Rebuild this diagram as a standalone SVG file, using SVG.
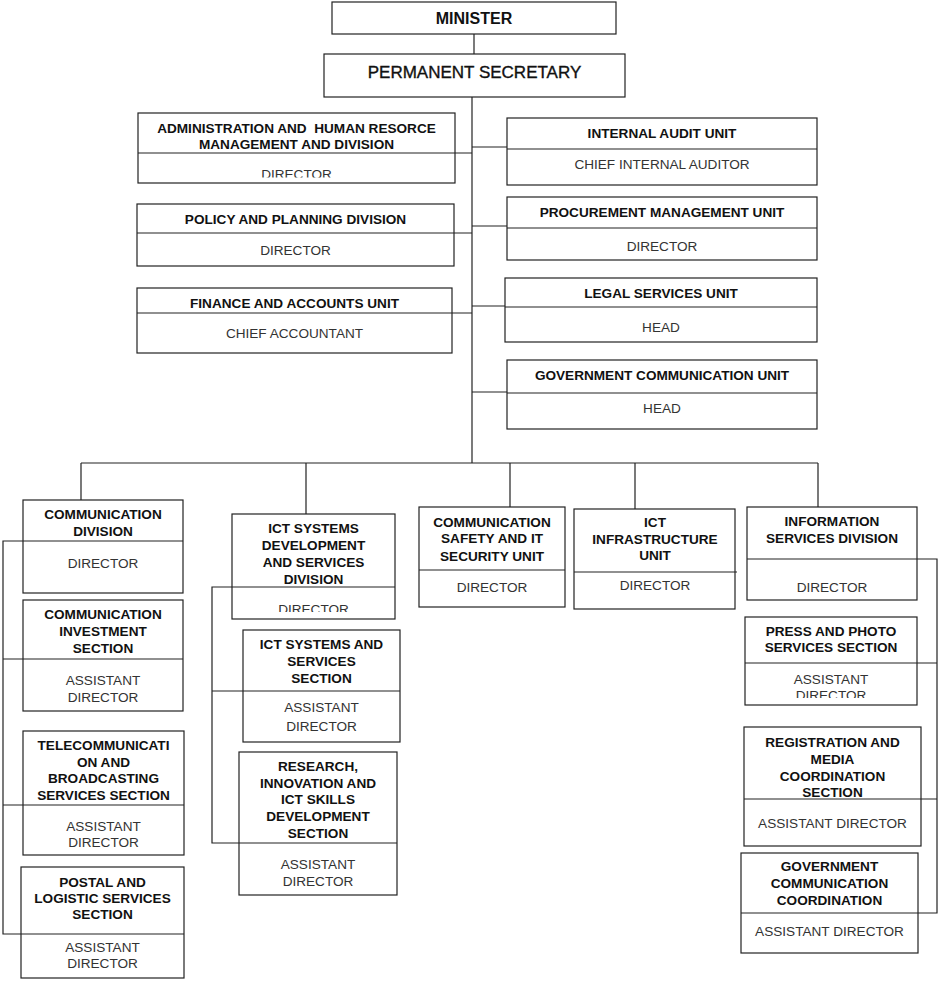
<svg xmlns="http://www.w3.org/2000/svg" width="941" height="981" viewBox="0 0 941 981">
<style>
.bx{fill:#fff;stroke:#222;stroke-width:1.2}
.dv{stroke:#222;stroke-width:1.2;fill:none}
.cn{stroke:#222;stroke-width:1.2;fill:none}
.t{font-family:"Liberation Sans",Arial,sans-serif;font-size:13.6px;font-weight:bold;fill:#111;text-anchor:middle}
.s{font-family:"Liberation Sans",Arial,sans-serif;font-size:13.6px;fill:#333;text-anchor:middle}
</style>
<defs>
<clipPath id="c1"><rect x="138" y="154" width="317" height="23.5"/></clipPath>
<clipPath id="c2"><rect x="232" y="588" width="163" height="24"/></clipPath>
<clipPath id="c3"><rect x="745" y="664" width="172" height="34"/></clipPath>
</defs>
<rect width="941" height="981" fill="#fff"/>
<g id="connectors">
<path class="cn" d="M474,34 V54"/>
<path class="cn" d="M472,97 V463"/>
<path class="cn" d="M455,153 H472 M472,147 H507 M454,233 H472 M472,226 H507 M452,313 H472 M472,306 H505 M472,392 H507"/>
<path class="cn" d="M81,463 H818 M81,463 V500 M306,463 V514 M510,463 V507 M635,463 V509 M818,463 V507"/>
<path class="cn" d="M23,541 H3 V934 H21 M3,659 H23 M3,805 H23"/>
<path class="cn" d="M232,587 H212 V843 H239 M212,691 H243"/>
<path class="cn" d="M917,559 H937 V913 H918 M917,663 H937 M921,799 H937"/>
</g>
<g id="minister">
<rect class="bx" x="332" y="2" width="284" height="32"/>
<text x="474" y="23.5" style="font-family:'Liberation Sans',Arial,sans-serif;font-size:16px;font-weight:bold;fill:#111;text-anchor:middle">MINISTER</text>
</g>
<g id="permanent-secretary">
<rect class="bx" x="324" y="54" width="301" height="43"/>
<text x="474.5" y="77.5" style="font-family:'Liberation Sans',Arial,sans-serif;font-size:17px;fill:#111;stroke:#111;stroke-width:0.35;text-anchor:middle">PERMANENT SECRETARY</text>
</g>
<g id="admin">
<rect class="bx" x="138" y="113" width="317" height="70"/>
<path class="dv" d="M138,153 H455"/>
<text class="t" x="296.5" y="132.5" style="white-space:pre">ADMINISTRATION AND  HUMAN RESORCE</text>
<text class="t" x="296.5" y="148.5">MANAGEMENT AND DIVISION</text>
<text class="s" x="296.5" y="179" clip-path="url(#c1)">DIRECTOR</text>
</g>
<g id="internal-audit">
<rect class="bx" x="507" y="118" width="310" height="67"/>
<path class="dv" d="M507,149 H817"/>
<text class="t" x="662" y="137.5">INTERNAL AUDIT UNIT</text>
<text class="s" x="662" y="168.5">CHIEF INTERNAL AUDITOR</text>
</g>
<g id="policy">
<rect class="bx" x="137" y="204" width="317" height="62"/>
<path class="dv" d="M137,233 H454"/>
<text class="t" x="295.5" y="223.5">POLICY AND PLANNING DIVISION</text>
<text class="s" x="295.5" y="254.5">DIRECTOR</text>
</g>
<g id="procurement">
<rect class="bx" x="507" y="197" width="310" height="63"/>
<path class="dv" d="M507,228 H817"/>
<text class="t" x="662" y="216.5">PROCUREMENT MANAGEMENT UNIT</text>
<text class="s" x="662" y="250.5">DIRECTOR</text>
</g>
<g id="finance">
<rect class="bx" x="137" y="288" width="315" height="65"/>
<path class="dv" d="M137,313 H452"/>
<text class="t" x="294.5" y="307.5">FINANCE AND ACCOUNTS UNIT</text>
<text class="s" x="294.5" y="337.5">CHIEF ACCOUNTANT</text>
</g>
<g id="legal">
<rect class="bx" x="505" y="278" width="312" height="64"/>
<path class="dv" d="M505,307 H817"/>
<text class="t" x="661" y="297.5">LEGAL SERVICES UNIT</text>
<text class="s" x="661" y="331.5">HEAD</text>
</g>
<g id="gcu">
<rect class="bx" x="507" y="360" width="310" height="69"/>
<path class="dv" d="M507,393 H817"/>
<text class="t" x="662" y="379.5">GOVERNMENT COMMUNICATION UNIT</text>
<text class="s" x="662" y="412.5">HEAD</text>
</g>
<g id="comm-division">
<rect class="bx" x="23" y="500" width="160" height="93"/>
<path class="dv" d="M23,541 H183"/>
<text class="t" x="103" y="518.5">COMMUNICATION</text>
<text class="t" x="103" y="535.5">DIVISION</text>
<text class="s" x="103" y="567.5">DIRECTOR</text>
</g>
<g id="comm-investment">
<rect class="bx" x="23" y="600" width="160" height="111"/>
<path class="dv" d="M23,659 H183"/>
<text class="t" x="103" y="618.5">COMMUNICATION</text>
<text class="t" x="103" y="635.5">INVESTMENT</text>
<text class="t" x="103" y="652.5">SECTION</text>
<text class="s" x="103" y="684.5">ASSISTANT</text>
<text class="s" x="103" y="701.5">DIRECTOR</text>
</g>
<g id="telecom">
<rect class="bx" x="23" y="731" width="161" height="124"/>
<path class="dv" d="M23,805 H184"/>
<text class="t" x="103.5" y="749.5">TELECOMMUNICATI</text>
<text class="t" x="103.5" y="766.5">ON AND</text>
<text class="t" x="103.5" y="782.5">BROADCASTING</text>
<text class="t" x="103.5" y="799.5">SERVICES SECTION</text>
<text class="s" x="103.5" y="830.5">ASSISTANT</text>
<text class="s" x="103.5" y="846.5">DIRECTOR</text>
</g>
<g id="postal">
<rect class="bx" x="21" y="867" width="163" height="111"/>
<path class="dv" d="M21,934 H184"/>
<text class="t" x="102.5" y="886.5">POSTAL AND</text>
<text class="t" x="102.5" y="902.5">LOGISTIC SERVICES</text>
<text class="t" x="102.5" y="918.5">SECTION</text>
<text class="s" x="102.5" y="951.5">ASSISTANT</text>
<text class="s" x="102.5" y="967.5">DIRECTOR</text>
</g>
<g id="ict-dev">
<rect class="bx" x="232" y="514" width="163" height="105"/>
<path class="dv" d="M232,587 H395"/>
<text class="t" x="313.5" y="532.5">ICT SYSTEMS</text>
<text class="t" x="313.5" y="549.5">DEVELOPMENT</text>
<text class="t" x="313.5" y="566.5">AND SERVICES</text>
<text class="t" x="313.5" y="583.5">DIVISION</text>
<text class="s" x="313.5" y="614" clip-path="url(#c2)">DIRECTOR</text>
</g>
<g id="ict-services">
<rect class="bx" x="243" y="630" width="157" height="112"/>
<path class="dv" d="M243,691 H400"/>
<text class="t" x="321.5" y="648.5">ICT SYSTEMS AND</text>
<text class="t" x="321.5" y="665.5">SERVICES</text>
<text class="t" x="321.5" y="682.5">SECTION</text>
<text class="s" x="321.5" y="711.5">ASSISTANT</text>
<text class="s" x="321.5" y="730.5">DIRECTOR</text>
</g>
<g id="research">
<rect class="bx" x="239" y="752" width="158" height="143"/>
<path class="dv" d="M239,843 H397"/>
<text class="t" x="318" y="770.5">RESEARCH,</text>
<text class="t" x="318" y="787.5">INNOVATION AND</text>
<text class="t" x="318" y="803.5">ICT SKILLS</text>
<text class="t" x="318" y="820.5">DEVELOPMENT</text>
<text class="t" x="318" y="837.5">SECTION</text>
<text class="s" x="318" y="868.5">ASSISTANT</text>
<text class="s" x="318" y="885.5">DIRECTOR</text>
</g>
<g id="comm-safety">
<rect class="bx" x="419" y="507" width="146" height="100"/>
<path class="dv" d="M419,570 H565"/>
<text class="t" x="492" y="526.5">COMMUNICATION</text>
<text class="t" x="492" y="542.5">SAFETY AND IT</text>
<text class="t" x="492" y="560.5">SECURITY UNIT</text>
<text class="s" x="492" y="591.5">DIRECTOR</text>
</g>
<g id="ict-infra">
<rect class="bx" x="574" y="509" width="161" height="100"/>
<path class="dv" d="M574,572 H737"/>
<text class="t" x="655" y="526.5">ICT</text>
<text class="t" x="655" y="543.5">INFRASTRUCTURE</text>
<text class="t" x="655" y="559.5">UNIT</text>
<text class="s" x="655" y="589.5">DIRECTOR</text>
</g>
<g id="info-services">
<rect class="bx" x="747" y="507" width="170" height="93"/>
<path class="dv" d="M747,559 H917"/>
<text class="t" x="832" y="525.5">INFORMATION</text>
<text class="t" x="832" y="542.5">SERVICES DIVISION</text>
<text class="s" x="832" y="591.5">DIRECTOR</text>
</g>
<g id="press">
<rect class="bx" x="745" y="617" width="172" height="88"/>
<path class="dv" d="M745,663 H917"/>
<text class="t" x="831" y="635.5">PRESS AND PHOTO</text>
<text class="t" x="831" y="651.5">SERVICES SECTION</text>
<text class="s" x="831" y="683.5">ASSISTANT</text>
<text class="s" x="831" y="700" clip-path="url(#c3)">DIRECTOR</text>
</g>
<g id="registration">
<rect class="bx" x="744" y="727" width="177" height="119"/>
<path class="dv" d="M744,799 H921"/>
<text class="t" x="832.5" y="746.5">REGISTRATION AND</text>
<text class="t" x="832.5" y="763.5">MEDIA</text>
<text class="t" x="832.5" y="780.5">COORDINATION</text>
<text class="t" x="832.5" y="796.5">SECTION</text>
<text class="s" x="832.5" y="827.5">ASSISTANT DIRECTOR</text>
</g>
<g id="gov-comm-coordination">
<rect class="bx" x="741" y="853" width="177" height="100"/>
<path class="dv" d="M741,913 H918"/>
<text class="t" x="829.5" y="870.5">GOVERNMENT</text>
<text class="t" x="829.5" y="887.5">COMMUNICATION</text>
<text class="t" x="829.5" y="904.5">COORDINATION</text>
<text class="s" x="829.5" y="935.5">ASSISTANT DIRECTOR</text>
</g>
</svg>
